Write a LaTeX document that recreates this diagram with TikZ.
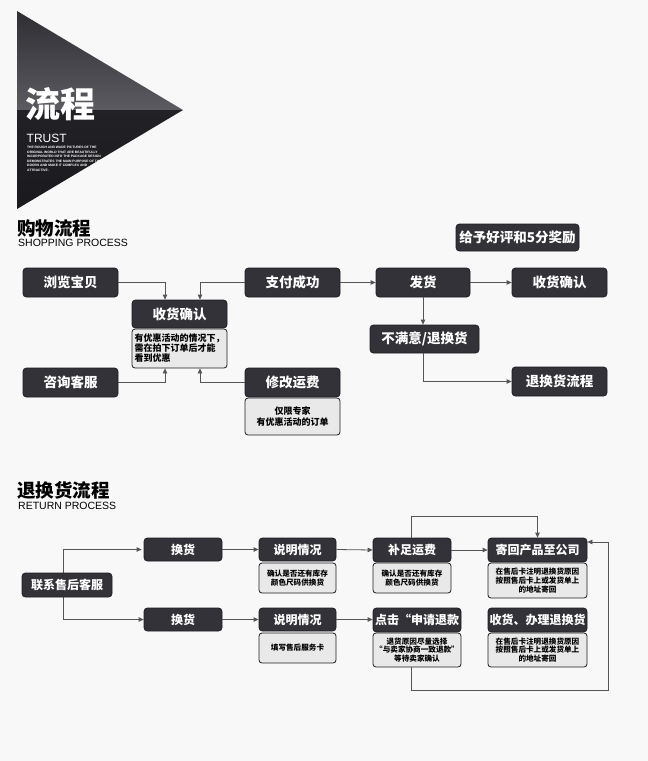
\documentclass[tikz,border=0pt]{standalone}
\usepackage{fontspec}
\setmainfont{Liberation Sans}
\newfontfamily\cjk{Noto Sans CJK SC}
\usetikzlibrary{arrows.meta,backgrounds}
\definecolor{bgc}{HTML}{F8F8F8}
\definecolor{boxc}{HTML}{333238}
\definecolor{boxd}{HTML}{1E1D22}
\definecolor{subc}{HTML}{E9E9E9}
\definecolor{linec}{HTML}{555555}
\definecolor{triA}{HTML}{2F2E33}
\definecolor{triB}{HTML}{5C5B61}
\definecolor{triC}{HTML}{222126}
\definecolor{triD}{HTML}{1A191E}
\tikzset{
  dbox/.style={draw=boxd, fill=boxc, rounded corners=3.5, line width=0.8,
    text=white, font=\cjk\bfseries\fontsize{13.5}{15}\selectfont, inner sep=0,
    minimum width=95, minimum height=29},
  rbox/.style={dbox, font=\cjk\bfseries\fontsize{12}{14}\selectfont, minimum height=24},
  sbox/.style={draw=boxd, fill=subc, rounded corners=3, line width=0.8,
    text=black, font=\cjk\bfseries\fontsize{9}{10.5}\selectfont, inner sep=0,
    align=center},
  tbox/.style={sbox, font=\cjk\bfseries\fontsize{7.6}{8.6}\selectfont},
  arr/.style={draw=linec, line width=0.8, -{Triangle[length=5, width=4.5]}},
  ln/.style={draw=linec, line width=0.8}
}
\begin{document}
\begin{tikzpicture}[x=1pt, y=-1pt]
\begin{pgfonlayer}{background}
\fill[bgc] (0,0) rectangle (648,761);
\end{pgfonlayer}
\useasboundingbox (0,0) rectangle (648,761);
% header triangle
\shade[top color=triA, bottom color=triB] (17,11) -- (183,110) -- (17,110) -- cycle;
\shade[top color=triC, bottom color=triD] (17,110) -- (183,110) -- (17,209) -- cycle;
\node[anchor=west, text=white, font=\cjk\bfseries\fontsize{35}{36}\selectfont, inner sep=0] (hd) at (25,104) {流程};
\node[anchor=south west, text=white, font=\fontsize{12}{12}\selectfont, inner sep=0] (tr) at (26.5,142.5) {TRUST};
\node[anchor=north west, text=white, font=\bfseries\fontsize{3.3}{4.6}\selectfont, align=left, inner sep=0] (sm) at (27,146) {THE ROUGH AND WADE PICTURES OF THE\\ORIGINAL WORLD THAT ARE BEAUTIFULLY\\INCORPORATED INTO THE PACKAGE DESIGN\\DEMONSTRATES THE MAIN PURPOSE OF THE\\DOORS AND MAKE IT COMPLEX AND\\ATTRACTIVE.};
% section titles
\node[anchor=south west, font=\cjk\bfseries\fontsize{18.5}{19}\selectfont, inner sep=0, text=black] (t1) at (17,237) {购物流程};
\node[anchor=south west, font=\fontsize{10.5}{11}\selectfont, inner sep=0, text=black] (t1e) at (18,246.5) {SHOPPING PROCESS};
\node[anchor=south west, font=\cjk\bfseries\fontsize{18.5}{19}\selectfont, inner sep=0, text=black] (t2) at (17,500) {退换货流程};
\node[anchor=south west, font=\fontsize{10.5}{11}\selectfont, inner sep=0, text=black] (t2e) at (18,510) {RETURN PROCESS};
% shopping process
\node[dbox] (b1) at (70.5,282.5) {浏览宝贝};
\node[dbox] (b2) at (292.5,282.5) {支付成功};
\node[dbox, minimum height=28] (b3) at (179.5,314) {收货确认};
\node[sbox, minimum width=95, minimum height=39, align=left, font=\cjk\bfseries\fontsize{9}{10}\selectfont] (s3) at (179.5,348.5) {有优惠活动的情况下，\\需在拍下订单后才能\\看到优惠};
\node[dbox] (b4) at (70.5,382.5) {咨询客服};
\node[dbox] (b5) at (292.5,382.5) {修改运费};
\node[sbox, minimum width=95, minimum height=37] (s5) at (292.5,416.5) {仅限专家\\有优惠活动的订单};
\node[dbox, minimum width=94] (b6) at (423,282.5) {发货};
\node[dbox] (b7) at (559.5,282.5) {收货确认};
\node[dbox, minimum width=123, minimum height=27] (b8) at (517.5,237.5) {给予好评和5分奖励};
\node[dbox, minimum width=109, minimum height=28] (b9) at (424.5,339) {不满意/退换货};
\node[dbox] (b10) at (559.5,381.5) {退换货流程};
\draw[arr] (b1.east) -| ([xshift=-14.5]b3.north);
\draw[arr] (b2.west) -| ([xshift=20.5]b3.north);
\draw[arr] (b4.east) -| ([xshift=-14.5]s3.south);
\draw[arr] (b5.west) -| ([xshift=20.5]s3.south);
\draw[arr] (b2.east) -- (b6.west);
\draw[arr] (b6.east) -- (b7.west);
\draw[arr] (b6.south) -- (b6.south |- b9.north);
\draw[arr] ([xshift=-1.5]b9.south) |- (b10.west);
% return process
\node[rbox, minimum width=90] (r0) at (67,585) {联系售后客服};
\node[rbox, minimum width=78, minimum height=23] (r1) at (183,549.5) {换货};
\node[rbox, minimum width=78, minimum height=23] (r2) at (183,619.5) {换货};
\node[rbox, minimum width=77, minimum height=23] (r3) at (297.5,549.5) {说明情况};
\node[tbox, minimum width=77, minimum height=30] (u3) at (297.5,578) {确认是否还有库存\\颜色尺码供换货};
\node[rbox, minimum width=77, minimum height=23] (r4) at (297.5,619.5) {说明情况};
\node[tbox, minimum width=77, minimum height=30] (u4) at (297.5,648) {填写售后服务卡};
\node[rbox, minimum width=78] (r5) at (412,550) {补足运费};
\node[tbox, minimum width=78, minimum height=30] (u5) at (412,578) {确认是否还有库存\\颜色尺码供换货};
\node[rbox, minimum width=99] (r6) at (537.5,550) {寄回产品至公司};
\node[tbox, minimum width=99, minimum height=35] (u6) at (537.5,580.5) {在售后卡注明退换货原因\\按照售后卡上或发货单上\\的地址寄回};
\node[rbox, minimum width=88] (r7) at (417,620) {点击“申请退款};
\node[tbox, minimum width=88, minimum height=34] (u7) at (417,650) {退货原因尽量选择\\“与卖家协商一致退款”\\等待卖家确认};
\node[rbox, minimum width=99] (r8) at (537.5,620) {收货、办理退换货};
\node[tbox, minimum width=99, minimum height=34] (u8) at (537.5,650) {在售后卡注明退换货原因\\按照售后卡上或发货单上\\的地址寄回};
\begin{pgfonlayer}{background}
\draw[arr] ([xshift=-4]r0.center) |- ([xshift=-2]r1.west);
\draw[arr] ([xshift=-4]r0.center) |- (r2.west);
\end{pgfonlayer}
\draw[arr] (r1.east) -- (r3.west);
\draw[arr] (r2.east) -- (r4.west);
\draw[arr] (r3.east) -- (r5.west);
\draw[arr] (r4.east) -- (r7.west |- r4.east);
\draw[arr] (r5.east) -- (r6.west);
\draw[arr] ([xshift=-1]r5.north) -- ++(0,-21) -| (r6.north);
\coordinate (lp1) at (608,690);
\draw[arr] ([xshift=-6]u7.south) |- (lp1) |- ([yshift=8]r6.east);
\end{tikzpicture}
\end{document}
